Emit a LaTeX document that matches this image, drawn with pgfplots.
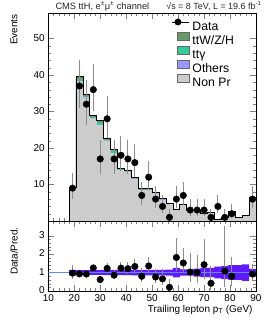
\documentclass[border=0pt]{standalone}
\usepackage{fontspec}
\setmainfont{Liberation Sans}
\usepackage{pgfplots}
\usepackage{pgfplotstable}
\pgfplotsset{compat=1.18}
\usepgfplotslibrary{fillbetween}
\definecolor{cttv}{RGB}{102,153,102}
\definecolor{cttg}{RGB}{51,204,153}
\definecolor{coth}{RGB}{153,153,255}
\definecolor{cnp}{RGB}{204,204,204}
\definecolor{cband}{RGB}{95,25,250}
\definecolor{cline}{RGB}{90,140,255}

% stacked prediction: left bin edge, Non Pr, Others, tt gamma, ttW/Z/H
\pgfplotstableread{
xl nonpr oth ttg ttv
18.000 8.95 0.05 0.10 0.20
20.667 38.2 0.10 0.50 0.80
23.333 33.9 0.10 0.20 0.60
26.000 28.1 0.10 0.20 0.50
28.667 26.3 0.10 0.60 0.60
31.333 22.0 0.10 0.20 0.40
34.000 18.6 0.10 0.50 0.50
36.667 13.95 0.05 0.20 0.30
39.333 13.55 0.05 0.10 0.30
42.000 11.55 0.05 0.10 0.30
44.667 8.45 0.05 0.10 0.20
47.333 8.50 0.05 0.05 0.20
50.000 7.60 0.05 0.05 0.20
52.667 5.85 0.05 0.05 0.15
55.333 4.65 0.05 0.05 0.15
58.000 3.10 0.05 0.05 0.10
60.667 4.40 0.05 0.05 0.10
63.333 2.70 0.05 0.05 0.10
66.000 2.80 0.05 0.05 0.10
68.667 1.98 0.02 0.05 0.05
71.333 2.28 0.02 0.05 0.05
74.000 0.45 0.00 0.00 0.05
76.667 0.88 0.00 0.00 0.05
79.333 2.38 0.02 0.05 0.05
82.000 0.95 0.00 0.00 0.05
84.667 1.45 0.00 0.00 0.05
87.333 6.30 0.05 0.05 0.10
90.000 6.30 0.05 0.05 0.10
}\stacktab

\pgfplotstableread{
xc d ep em
19.333 9 4.11 2.94
22.000 37 7.12 6.06
24.667 32 6.70 5.63
27.333 36 7.04 5.98
30.000 17 5.16 4.08
32.667 28 6.34 5.26
35.333 17 5.16 4.08
38.000 18 5.28 4.20
40.667 17 5.16 4.08
43.333 16 5.04 3.96
46.000 7 3.77 2.58
48.667 12 4.53 3.41
51.333 6 3.58 2.38
54.000 4 3.16 1.91
56.667 1 2.30 0.83
59.333 6 3.58 2.38
62.000 7 3.77 2.58
64.667 3 2.92 1.63
67.333 3 2.92 1.63
70.000 3 2.92 1.63
72.667 1 2.30 0.83
75.333 4 3.16 1.91
78.000 1 2.30 0.83
80.667 2 2.64 1.29
88.667 6 3.58 2.38
}\datatab

\pgfplotstableread{
xc r ep em
19.333 0.97 0.44 0.32
22.000 0.93 0.18 0.15
24.667 0.92 0.19 0.16
27.333 1.25 0.24 0.21
30.000 0.62 0.19 0.15
32.667 1.23 0.28 0.23
35.333 0.86 0.26 0.21
38.000 1.24 0.36 0.29
40.667 1.21 0.37 0.29
43.333 1.33 0.42 0.33
46.000 0.80 0.43 0.29
48.667 1.36 0.51 0.39
51.333 0.76 0.45 0.30
54.000 0.66 0.52 0.31
56.667 0.20 0.47 0.17
59.333 1.82 1.08 0.72
62.000 1.52 0.82 0.56
64.667 1.03 1.01 0.56
67.333 1.00 0.97 0.54
70.000 1.43 1.39 0.78
72.667 0.42 0.96 0.35
78.000 1.08 2.47 0.89
80.667 0.80 1.06 0.52
88.667 0.92 0.55 0.37
}\ratiotab

\pgfplotstableread{
xl lo hi
18.000 0.85 1.15
20.667 0.87 1.13
23.333 0.87 1.13
26.000 0.87 1.13
28.667 0.87 1.13
31.333 0.86 1.14
34.000 0.86 1.14
36.667 0.86 1.14
39.333 0.86 1.14
42.000 0.85 1.15
44.667 0.85 1.15
47.333 0.85 1.15
50.000 0.85 1.15
52.667 0.85 1.15
55.333 0.84 1.16
58.000 0.74 1.26
60.667 0.83 1.17
63.333 0.83 1.17
66.000 0.78 1.22
68.667 0.75 1.25
71.333 0.75 1.25
74.000 0.68 1.32
76.667 0.65 1.35
79.333 0.60 1.40
82.000 0.60 1.40
84.667 0.55 1.45
87.333 0.80 1.20
90.000 0.80 1.20
}\bandtab

\pgfplotsset{rootstyle/.style={
  scale only axis, width=207.7bp, xmin=10, xmax=90,
  tick align=inside, tick pos=both,
  major tick length=6bp, minor tick length=3bp,
  xtick={10,20,...,90}, minor x tick num=4,
  tick label style={font=\fontsize{10}{12}\selectfont},
  /pgf/number format/assume math mode=true,
  axis line style={line width=0.7bp},
  label style={font=\fontsize{12.5}{14}\selectfont},
}}

\begin{document}
\begin{tikzpicture}

% ---------------- top panel ----------------
\begin{axis}[rootstyle, name=top, at={(48.3bp,101bp)}, anchor=south west, height=208bp,
  ymin=0, ymax=57, ytick={0,10,...,50}, yticklabels={,10,20,30,40,50}, minor y tick num=4,
  xticklabels={},
  ylabel={Events},
  every axis y label/.style={at={(axis description cs:-0.165,1.01)}, anchor=east, rotate=90},
  legend style={draw=none, fill=none, at={(rel axis cs:0.620,0.9745)}, anchor=north west,
    inner sep=0pt, outer sep=0pt, row sep=0pt, column sep=3.3bp,
    font=\fontsize{12.3}{14}\selectfont,
    nodes={inner sep=0pt, text height=10.1bp, text depth=1.5bp}},
  legend cell align=left,
]
\addlegendimage{legend image code/.code={\path[draw=none, fill=none] (0bp,0.6bp) rectangle (11.7bp,8bp); \draw[black, line width=0.8bp, overlay] (-5bp,4.3bp) -- (11.7bp,4.3bp); \fill[black, overlay] (0.7bp,4.3bp) circle (3.2bp);}}
\addlegendentry{Data}
\addlegendimage{legend image code/.code={\draw[fill=cttv, draw=black!60, line width=0.4bp] (0bp,0.6bp) rectangle (11.7bp,8bp);}}
\addlegendentry{ttW/Z/H}
\addlegendimage{legend image code/.code={\draw[fill=cttg, draw=black!60, line width=0.4bp] (0bp,0.6bp) rectangle (11.7bp,8bp);}}
\addlegendentry{ttγ}
\addlegendimage{legend image code/.code={\draw[fill=coth, draw=black!60, line width=0.4bp] (0bp,0.6bp) rectangle (11.7bp,8bp);}}
\addlegendentry{Others}
\addlegendimage{legend image code/.code={\draw[fill=cnp, draw=black!60, line width=0.4bp] (0bp,0.6bp) rectangle (11.7bp,8bp);}}
\addlegendentry{Non Pr}

\addplot[fill=cttv, draw=none, const plot mark left, forget plot]
  table[x=xl, y expr=\thisrow{nonpr}+\thisrow{oth}+\thisrow{ttg}+\thisrow{ttv}] {\stacktab} \closedcycle;
\addplot[fill=cttg, draw=none, const plot mark left, forget plot]
  table[x=xl, y expr=\thisrow{nonpr}+\thisrow{oth}+\thisrow{ttg}] {\stacktab} \closedcycle;
\addplot[fill=coth, draw=none, const plot mark left, forget plot]
  table[x=xl, y expr=\thisrow{nonpr}+\thisrow{oth}] {\stacktab} \closedcycle;
\addplot[fill=cnp, draw=none, const plot mark left, forget plot]
  table[x=xl, y=nonpr] {\stacktab} \closedcycle;
\addplot[draw=black, line width=0.8bp, const plot mark left, forget plot]
  table[x=xl, y expr=\thisrow{nonpr}+\thisrow{oth}+\thisrow{ttg}+\thisrow{ttv}] {\stacktab} \closedcycle;

\addplot[only marks, mark=*, mark size=3.3bp, black, forget plot,
  error bars/.cd, y dir=both, y explicit, error mark=none,
  error bar style={black!45, line width=1bp}]
  table[x=xc, y=d, y error plus=ep, y error minus=em] {\datatab};
\end{axis}

% ---------------- ratio panel ----------------
\begin{axis}[rootstyle, name=bot, at={(48.3bp,31bp)}, anchor=south west, height=70bp,
  ymin=0, ymax=3.8, ytick={0,1,2,3}, minor y tick num=4,
  yticklabel style={yshift=1bp},
  xlabel={Trailing lepton p\textsubscript{T} (GeV)},
  every axis x label/.style={at={(axis description cs:1,-0.3)}, anchor=base east},
  ylabel={Data/Pred.},
  every axis y label/.style={at={(axis description cs:-0.165,0.57)}, anchor=center, rotate=90},
]
\addplot[cline, line width=1.5bp, forget plot] coordinates {(10,1) (90,1)};
\addplot[name path=bup, draw=none, const plot mark left, forget plot] table[x=xl, y=hi] {\bandtab};
\addplot[name path=blo, draw=none, const plot mark left, forget plot] table[x=xl, y=lo] {\bandtab};
\addplot[cband, draw=none, forget plot] fill between[of=bup and blo];
\addplot[only marks, mark=*, mark size=3.3bp, black, forget plot,
  error bars/.cd, y dir=both, y explicit, error mark=none,
  error bar style={black!45, line width=1bp}]
  table[x=xc, y=r, y error plus=ep, y error minus=em] {\ratiotab};
\end{axis}

\node[anchor=base west, font=\fontsize{9.3}{10}\selectfont, text=black!85] at (52bp,312.7bp)
  {CMS ttH, e\textsuperscript{±}μ\textsuperscript{±} channel};
\node[anchor=base east, font=\fontsize{9}{10}\selectfont, text=black!85] at (265bp,312.7bp)
  {√s = 8 TeV, L = 19.6 fb\textsuperscript{-1}};

\pgfresetboundingbox
\path[use as bounding box] (0,0) rectangle (266bp,322bp);
\end{tikzpicture}
\end{document}
